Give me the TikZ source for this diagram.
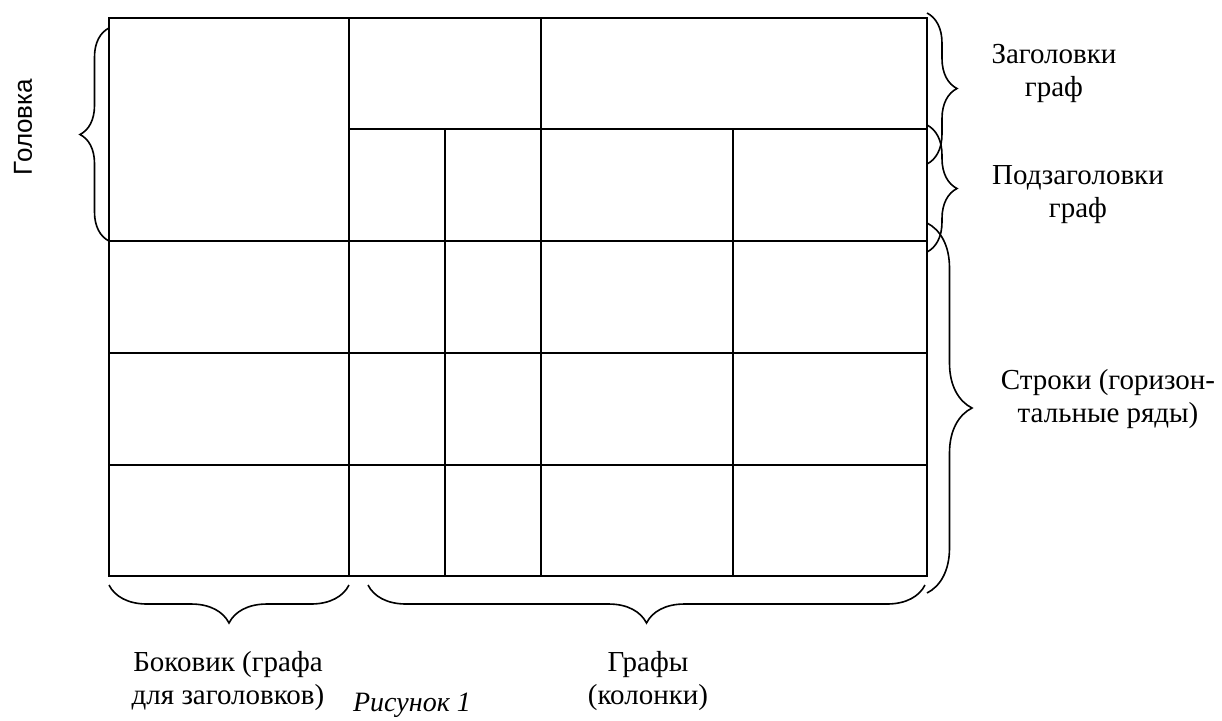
\documentclass[tikz,border=0pt]{standalone}
\usepackage{fontspec}
\setmainfont{Liberation Serif}
\newfontfamily\headfont{Liberation Sans}
\usetikzlibrary{decorations.pathreplacing}

\tikzset{
  grid line/.style={black, line width=1pt},
  brace line/.style={black, line width=0.8pt, decorate,
    decoration={brace, amplitude=#1}},
  label text/.style={align=center, inner sep=0pt,
    font=\fontsize{14.5}{16.5}\selectfont}
}

\begin{document}
\begin{tikzpicture}[x=0.5pt,y=-0.5pt]
\useasboundingbox (0,0) rectangle (1222,720);
% table frame
\draw [grid line] (109,18) rectangle (927,576);
% horizontal rules
\draw [grid line] (349,129) -- (927,129);
\foreach \y in {241,353,465}
  \draw [grid line] (109,\y) -- (927,\y);
% vertical rules
\draw [grid line] (349,18) -- (349,576);
\draw [grid line] (541,18) -- (541,576);
\draw [grid line] (445,129) -- (445,576);
\draw [grid line] (733,129) -- (733,576);
% braces
\coordinate (headB) at (109,241);
\coordinate (headT) at (109,28);
\draw [brace line=14.5pt] (headB) -- (headT);
\coordinate (capT) at (927,13);
\coordinate (capB) at (927,164);
\draw [brace line=15pt] (capT) -- (capB);
\coordinate (subT) at (927,125);
\coordinate (subB) at (927,252);
\draw [brace line=15pt] (subT) -- (subB);
\coordinate (rowT) at (927,223);
\coordinate (rowB) at (927,593);
\draw [brace line=22.5pt] (rowT) -- (rowB);
\coordinate (sideR) at (349,585);
\coordinate (sideL) at (109,585);
\draw [brace line=19pt] (sideR) -- (sideL);
\coordinate (colR) at (925,585);
\coordinate (colL) at (368,585);
\draw [brace line=19pt] (colR) -- (colL);
% labels
\node (head) [rotate=90, inner sep=0pt, font=\headfont\fontsize{13}{15}\selectfont] at (23,127) {Головка};
\node (caps) [label text] at (1054,73) {Заголовки\\граф};
\node (subs) [label text] at (1078,195) {Подзаголовки\\граф};
\node (rows) [label text] at (1108,399) {Строки (горизон-\\тальные ряды)};
\node (side) [label text] at (228,681) {Боковик (графа\\для заголовков)};
\node (cols) [label text] at (648,681) {Графы\\(колонки)};
\node (fig) [label text, font=\itshape\fontsize{14}{16}\selectfont] at (412,705) {Рисунок 1};
\end{tikzpicture}
\end{document}
